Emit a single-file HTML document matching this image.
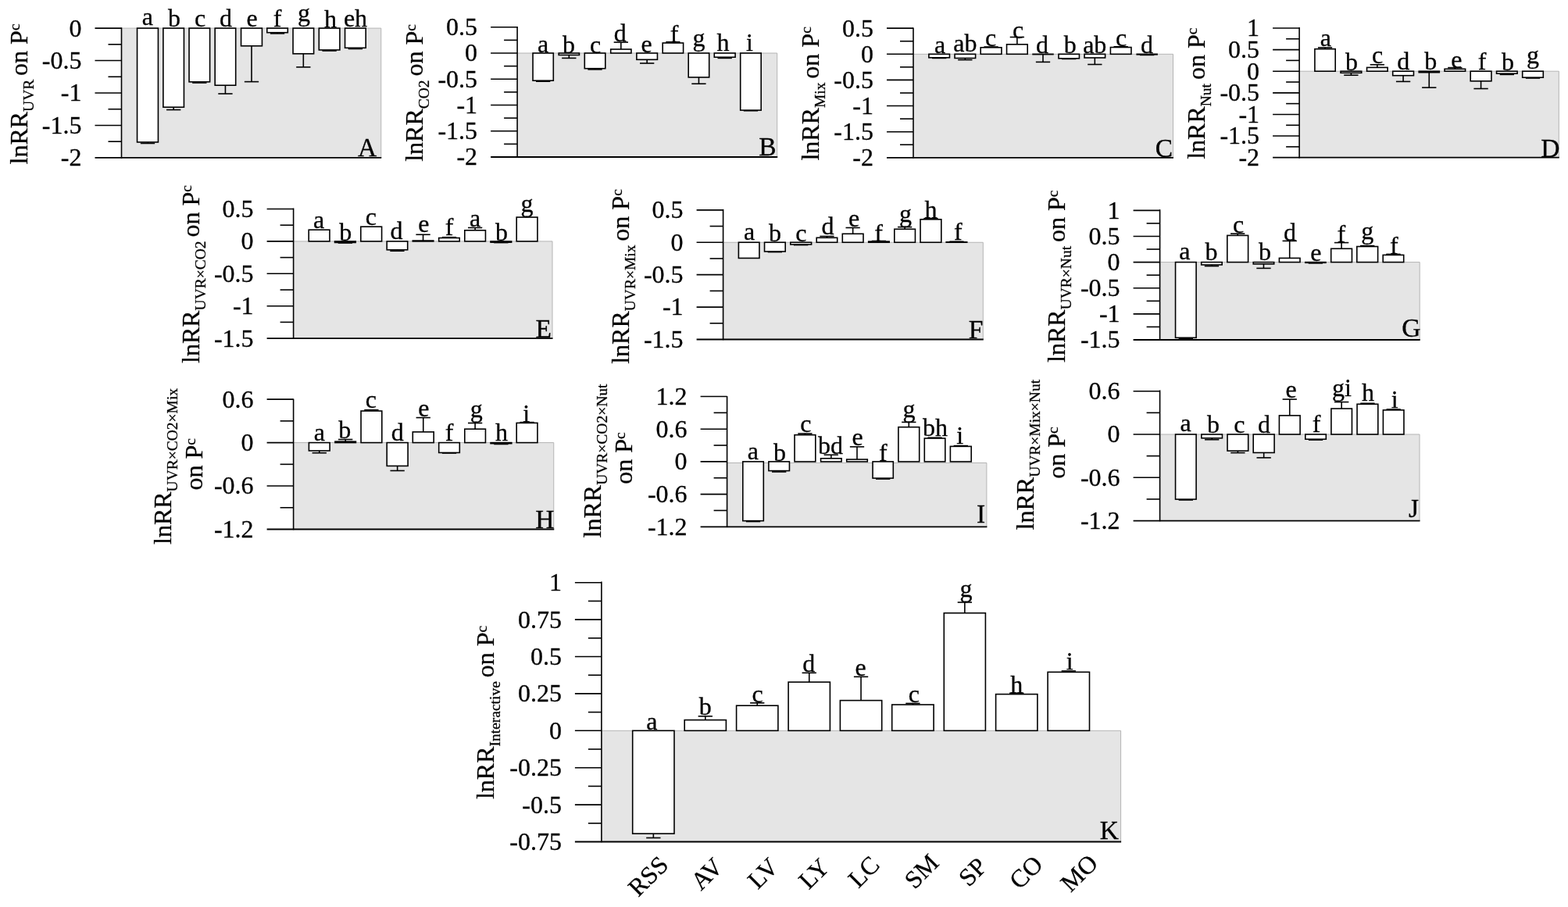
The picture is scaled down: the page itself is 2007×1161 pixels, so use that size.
<!DOCTYPE html>
<html lang="en">
<head>
<meta charset="utf-8">
<title>lnRR on Pc - response ratios</title>
<style>
html,body{margin:0;padding:0;background:#fff;}
body{width:2007px;height:1161px;overflow:hidden;}
svg{display:block;font-family:"Liberation Serif","Times New Roman",Times,serif;fill:#000;}
text{stroke:#000;stroke-width:0.3px;}
</style>
</head>
<body>
<svg width="2007" height="1161" viewBox="0 0 2007 1161">
<rect x="0" y="0" width="2007" height="1161" fill="#fff"/>
<rect x="155.5" y="36.1" width="332.25" height="165.8" fill="#e5e5e5"/>
<line x1="155.5" y1="36.1" x2="487.75" y2="36.1" stroke="#b4b4b4" stroke-width="1"/>
<line x1="487.75" y1="36.1" x2="487.75" y2="201.9" stroke="#b4b4b4" stroke-width="1"/>
<rect x="175.55" y="36.1" width="26.9" height="145.85" fill="#fff" stroke="#000" stroke-width="1.6"/>
<line x1="189" y1="181.95" x2="189" y2="183.5" stroke="#000" stroke-width="1.6"/>
<line x1="179.85" y1="183.5" x2="198.15" y2="183.5" stroke="#000" stroke-width="1.6"/>
<rect x="208.9" y="36.1" width="26.55" height="101.1" fill="#fff" stroke="#000" stroke-width="1.6"/>
<line x1="222.18" y1="137.2" x2="222.18" y2="140.55" stroke="#000" stroke-width="1.6"/>
<line x1="213.03" y1="140.55" x2="231.33" y2="140.55" stroke="#000" stroke-width="1.6"/>
<rect x="242.05" y="36.1" width="26.55" height="68.7" fill="#fff" stroke="#000" stroke-width="1.6"/>
<line x1="255.32" y1="104.8" x2="255.32" y2="106" stroke="#000" stroke-width="1.6"/>
<line x1="246.17" y1="106" x2="264.47" y2="106" stroke="#000" stroke-width="1.6"/>
<rect x="275.2" y="36.1" width="26.5" height="73.1" fill="#fff" stroke="#000" stroke-width="1.6"/>
<line x1="288.45" y1="109.2" x2="288.45" y2="120" stroke="#000" stroke-width="1.6"/>
<line x1="279.3" y1="120" x2="297.6" y2="120" stroke="#000" stroke-width="1.6"/>
<rect x="308.55" y="36.1" width="26.9" height="22.7" fill="#fff" stroke="#000" stroke-width="1.6"/>
<line x1="322" y1="58.8" x2="322" y2="104.6" stroke="#000" stroke-width="1.6"/>
<line x1="312.85" y1="104.6" x2="331.15" y2="104.6" stroke="#000" stroke-width="1.6"/>
<rect x="341.8" y="36.1" width="26.5" height="5.6" fill="#fff" stroke="#000" stroke-width="1.6"/>
<line x1="355.05" y1="41.7" x2="355.05" y2="42.9" stroke="#000" stroke-width="1.6"/>
<line x1="345.9" y1="42.9" x2="364.2" y2="42.9" stroke="#000" stroke-width="1.6"/>
<rect x="375.05" y="36.1" width="26.55" height="32.7" fill="#fff" stroke="#000" stroke-width="1.6"/>
<line x1="388.32" y1="68.8" x2="388.32" y2="85.9" stroke="#000" stroke-width="1.6"/>
<line x1="379.18" y1="85.9" x2="397.47" y2="85.9" stroke="#000" stroke-width="1.6"/>
<rect x="408.3" y="36.1" width="26.6" height="27.85" fill="#fff" stroke="#000" stroke-width="1.6"/>
<line x1="421.6" y1="63.95" x2="421.6" y2="65" stroke="#000" stroke-width="1.6"/>
<line x1="412.45" y1="65" x2="430.75" y2="65" stroke="#000" stroke-width="1.6"/>
<rect x="441.55" y="36.1" width="26.65" height="25.2" fill="#fff" stroke="#000" stroke-width="1.6"/>
<line x1="454.88" y1="61.3" x2="454.88" y2="62.5" stroke="#000" stroke-width="1.6"/>
<line x1="445.73" y1="62.5" x2="464.02" y2="62.5" stroke="#000" stroke-width="1.6"/>
<line x1="155.5" y1="35.3" x2="155.5" y2="202.7" stroke="#000" stroke-width="1.6"/>
<line x1="121.5" y1="201.9" x2="488.25" y2="201.9" stroke="#000" stroke-width="1.8"/>
<line x1="121.5" y1="36.1" x2="155.5" y2="36.1" stroke="#000" stroke-width="1.6"/>
<text x="104.5" y="46.5" text-anchor="end" font-size="32">0</text>
<line x1="138.5" y1="56.83" x2="155.5" y2="56.83" stroke="#000" stroke-width="1.6"/>
<line x1="121.5" y1="77.55" x2="155.5" y2="77.55" stroke="#000" stroke-width="1.6"/>
<text x="104.5" y="87.95" text-anchor="end" font-size="32">-0.5</text>
<line x1="138.5" y1="98.28" x2="155.5" y2="98.28" stroke="#000" stroke-width="1.6"/>
<line x1="121.5" y1="119" x2="155.5" y2="119" stroke="#000" stroke-width="1.6"/>
<text x="104.5" y="129.4" text-anchor="end" font-size="32">-1</text>
<line x1="138.5" y1="139.72" x2="155.5" y2="139.72" stroke="#000" stroke-width="1.6"/>
<line x1="121.5" y1="160.45" x2="155.5" y2="160.45" stroke="#000" stroke-width="1.6"/>
<text x="104.5" y="170.85" text-anchor="end" font-size="32">-1.5</text>
<line x1="138.5" y1="181.18" x2="155.5" y2="181.18" stroke="#000" stroke-width="1.6"/>
<text x="104.5" y="212.3" text-anchor="end" font-size="32">-2</text>
<text x="188.75" y="31.9" text-anchor="middle" font-size="32">a</text>
<text x="223" y="33.5" text-anchor="middle" font-size="32">b</text>
<text x="256" y="33.5" text-anchor="middle" font-size="32">c</text>
<text x="289" y="33.5" text-anchor="middle" font-size="32">d</text>
<text x="322.5" y="33.5" text-anchor="middle" font-size="32">e</text>
<text x="355" y="33.75" text-anchor="middle" font-size="32">f</text>
<text x="389" y="27.4" text-anchor="middle" font-size="32">g</text>
<text x="423" y="35" text-anchor="middle" font-size="32">h</text>
<text x="455" y="33.75" text-anchor="middle" font-size="32">eh</text>
<text x="482.2" y="199.8" text-anchor="end" font-size="33.5">A</text>
<text transform="translate(34.8,210.5) rotate(-90)" font-size="32">lnRR<tspan font-size="19.5" dy="8">UVR </tspan><tspan dy="-8">on P</tspan><tspan font-size="19.5" dy="-9.5">c</tspan></text>
<rect x="662.1" y="68" width="332.6" height="133" fill="#e5e5e5"/>
<line x1="662.1" y1="68" x2="994.7" y2="68" stroke="#b4b4b4" stroke-width="1"/>
<line x1="994.7" y1="68" x2="994.7" y2="201" stroke="#b4b4b4" stroke-width="1"/>
<rect x="682.05" y="68" width="26.25" height="35.2" fill="#fff" stroke="#000" stroke-width="1.6"/>
<line x1="695.17" y1="103.2" x2="695.17" y2="104.2" stroke="#000" stroke-width="1.6"/>
<line x1="686.02" y1="104.2" x2="704.32" y2="104.2" stroke="#000" stroke-width="1.6"/>
<rect x="715.2" y="68" width="26.25" height="2.45" fill="#fff" stroke="#000" stroke-width="1.6"/>
<line x1="728.33" y1="70.45" x2="728.33" y2="74.4" stroke="#000" stroke-width="1.6"/>
<line x1="719.18" y1="74.4" x2="737.48" y2="74.4" stroke="#000" stroke-width="1.6"/>
<rect x="748.3" y="68" width="26.5" height="19.7" fill="#fff" stroke="#000" stroke-width="1.6"/>
<line x1="761.55" y1="87.7" x2="761.55" y2="88.9" stroke="#000" stroke-width="1.6"/>
<line x1="752.4" y1="88.9" x2="770.7" y2="88.9" stroke="#000" stroke-width="1.6"/>
<rect x="781.7" y="63.05" width="26.25" height="4.95" fill="#fff" stroke="#000" stroke-width="1.6"/>
<line x1="794.83" y1="63.05" x2="794.83" y2="54.1" stroke="#000" stroke-width="1.6"/>
<line x1="785.68" y1="54.1" x2="803.98" y2="54.1" stroke="#000" stroke-width="1.6"/>
<rect x="814.9" y="68" width="26.55" height="8.3" fill="#fff" stroke="#000" stroke-width="1.6"/>
<line x1="828.17" y1="76.3" x2="828.17" y2="81" stroke="#000" stroke-width="1.6"/>
<line x1="819.02" y1="81" x2="837.32" y2="81" stroke="#000" stroke-width="1.6"/>
<rect x="848.2" y="55" width="26.4" height="13" fill="#fff" stroke="#000" stroke-width="1.6"/>
<line x1="861.4" y1="55" x2="861.4" y2="53.75" stroke="#000" stroke-width="1.6"/>
<line x1="852.25" y1="53.75" x2="870.55" y2="53.75" stroke="#000" stroke-width="1.6"/>
<rect x="881.2" y="68" width="26.5" height="30.95" fill="#fff" stroke="#000" stroke-width="1.6"/>
<line x1="894.45" y1="98.95" x2="894.45" y2="107.25" stroke="#000" stroke-width="1.6"/>
<line x1="885.3" y1="107.25" x2="903.6" y2="107.25" stroke="#000" stroke-width="1.6"/>
<rect x="914.3" y="68" width="26.8" height="5.2" fill="#fff" stroke="#000" stroke-width="1.6"/>
<line x1="927.7" y1="73.2" x2="927.7" y2="74.4" stroke="#000" stroke-width="1.6"/>
<line x1="918.55" y1="74.4" x2="936.85" y2="74.4" stroke="#000" stroke-width="1.6"/>
<rect x="947.7" y="68" width="26.5" height="73.1" fill="#fff" stroke="#000" stroke-width="1.6"/>
<line x1="960.95" y1="141.1" x2="960.95" y2="141.75" stroke="#000" stroke-width="1.6"/>
<line x1="951.8" y1="141.75" x2="970.1" y2="141.75" stroke="#000" stroke-width="1.6"/>
<line x1="662.1" y1="33.95" x2="662.1" y2="201.8" stroke="#000" stroke-width="1.6"/>
<line x1="628.1" y1="201" x2="995.2" y2="201" stroke="#000" stroke-width="1.8"/>
<line x1="628.1" y1="34.75" x2="662.1" y2="34.75" stroke="#000" stroke-width="1.6"/>
<text x="611.1" y="45.15" text-anchor="end" font-size="32">0.5</text>
<line x1="645.1" y1="51.38" x2="662.1" y2="51.38" stroke="#000" stroke-width="1.6"/>
<line x1="628.1" y1="68" x2="662.1" y2="68" stroke="#000" stroke-width="1.6"/>
<text x="611.1" y="78.4" text-anchor="end" font-size="32">0</text>
<line x1="645.1" y1="84.62" x2="662.1" y2="84.62" stroke="#000" stroke-width="1.6"/>
<line x1="628.1" y1="101.25" x2="662.1" y2="101.25" stroke="#000" stroke-width="1.6"/>
<text x="611.1" y="111.65" text-anchor="end" font-size="32">-0.5</text>
<line x1="645.1" y1="117.88" x2="662.1" y2="117.88" stroke="#000" stroke-width="1.6"/>
<line x1="628.1" y1="134.5" x2="662.1" y2="134.5" stroke="#000" stroke-width="1.6"/>
<text x="611.1" y="144.9" text-anchor="end" font-size="32">-1</text>
<line x1="645.1" y1="151.12" x2="662.1" y2="151.12" stroke="#000" stroke-width="1.6"/>
<line x1="628.1" y1="167.75" x2="662.1" y2="167.75" stroke="#000" stroke-width="1.6"/>
<text x="611.1" y="178.15" text-anchor="end" font-size="32">-1.5</text>
<line x1="645.1" y1="184.38" x2="662.1" y2="184.38" stroke="#000" stroke-width="1.6"/>
<text x="611.1" y="211.4" text-anchor="end" font-size="32">-2</text>
<text x="695" y="67.3" text-anchor="middle" font-size="32">a</text>
<text x="728" y="67.65" text-anchor="middle" font-size="32">b</text>
<text x="762" y="67.65" text-anchor="middle" font-size="32">c</text>
<text x="793.75" y="52.9" text-anchor="middle" font-size="32">d</text>
<text x="827.5" y="67.3" text-anchor="middle" font-size="32">e</text>
<text x="863" y="53.5" text-anchor="middle" font-size="32">f</text>
<text x="894.4" y="59.4" text-anchor="middle" font-size="32">g</text>
<text x="925.6" y="65.4" text-anchor="middle" font-size="32">h</text>
<text x="959.4" y="64.8" text-anchor="middle" font-size="32">i</text>
<text x="993.6" y="199.4" text-anchor="end" font-size="33.5">B</text>
<text transform="translate(541,206.8) rotate(-90)" font-size="32">lnRR<tspan font-size="19.5" dy="8">CO2 </tspan><tspan dy="-8">on P</tspan><tspan font-size="19.5" dy="-9.5">c</tspan></text>
<rect x="1169" y="69.3" width="332.5" height="132.5" fill="#e5e5e5"/>
<line x1="1169" y1="69.3" x2="1501.5" y2="69.3" stroke="#b4b4b4" stroke-width="1"/>
<line x1="1501.5" y1="69.3" x2="1501.5" y2="201.8" stroke="#b4b4b4" stroke-width="1"/>
<rect x="1188.9" y="69.3" width="26.55" height="4.5" fill="#fff" stroke="#000" stroke-width="1.6"/>
<line x1="1202.17" y1="73.8" x2="1202.17" y2="74.4" stroke="#000" stroke-width="1.6"/>
<line x1="1193.02" y1="74.4" x2="1211.33" y2="74.4" stroke="#000" stroke-width="1.6"/>
<rect x="1222.05" y="69.3" width="26.55" height="5.15" fill="#fff" stroke="#000" stroke-width="1.6"/>
<line x1="1235.33" y1="74.45" x2="1235.33" y2="76.6" stroke="#000" stroke-width="1.6"/>
<line x1="1226.17" y1="76.6" x2="1244.48" y2="76.6" stroke="#000" stroke-width="1.6"/>
<rect x="1255.2" y="60.8" width="26.75" height="8.5" fill="#fff" stroke="#000" stroke-width="1.6"/>
<line x1="1268.58" y1="60.8" x2="1268.58" y2="60" stroke="#000" stroke-width="1.6"/>
<line x1="1259.42" y1="60" x2="1277.73" y2="60" stroke="#000" stroke-width="1.6"/>
<rect x="1288.55" y="56.8" width="26.65" height="12.5" fill="#fff" stroke="#000" stroke-width="1.6"/>
<line x1="1301.88" y1="56.8" x2="1301.88" y2="47.5" stroke="#000" stroke-width="1.6"/>
<line x1="1292.72" y1="47.5" x2="1311.03" y2="47.5" stroke="#000" stroke-width="1.6"/>
<rect x="1322.05" y="69.3" width="25.9" height="0.3" fill="#fff" stroke="#000" stroke-width="1.6"/>
<line x1="1335" y1="69.6" x2="1335" y2="79.4" stroke="#000" stroke-width="1.6"/>
<line x1="1325.85" y1="79.4" x2="1344.15" y2="79.4" stroke="#000" stroke-width="1.6"/>
<rect x="1355" y="69.3" width="26.45" height="5.5" fill="#fff" stroke="#000" stroke-width="1.6"/>
<line x1="1368.22" y1="74.8" x2="1368.22" y2="75.4" stroke="#000" stroke-width="1.6"/>
<line x1="1359.07" y1="75.4" x2="1377.38" y2="75.4" stroke="#000" stroke-width="1.6"/>
<rect x="1388.05" y="69.3" width="26.55" height="4.65" fill="#fff" stroke="#000" stroke-width="1.6"/>
<line x1="1401.33" y1="73.95" x2="1401.33" y2="82.5" stroke="#000" stroke-width="1.6"/>
<line x1="1392.17" y1="82.5" x2="1410.48" y2="82.5" stroke="#000" stroke-width="1.6"/>
<rect x="1421.4" y="60.55" width="26.55" height="8.75" fill="#fff" stroke="#000" stroke-width="1.6"/>
<line x1="1434.67" y1="60.55" x2="1434.67" y2="59.75" stroke="#000" stroke-width="1.6"/>
<line x1="1425.52" y1="59.75" x2="1443.83" y2="59.75" stroke="#000" stroke-width="1.6"/>
<rect x="1455.2" y="69.3" width="25.9" height="0.5" fill="#fff" stroke="#000" stroke-width="1.6"/>
<line x1="1468.15" y1="69.8" x2="1468.15" y2="70.4" stroke="#000" stroke-width="1.6"/>
<line x1="1459" y1="70.4" x2="1477.3" y2="70.4" stroke="#000" stroke-width="1.6"/>
<line x1="1169" y1="35.4" x2="1169" y2="202.6" stroke="#000" stroke-width="1.6"/>
<line x1="1135" y1="201.8" x2="1502" y2="201.8" stroke="#000" stroke-width="1.8"/>
<line x1="1135" y1="36.17" x2="1169" y2="36.17" stroke="#000" stroke-width="1.6"/>
<text x="1118" y="46.57" text-anchor="end" font-size="32">0.5</text>
<line x1="1152" y1="52.74" x2="1169" y2="52.74" stroke="#000" stroke-width="1.6"/>
<line x1="1135" y1="69.3" x2="1169" y2="69.3" stroke="#000" stroke-width="1.6"/>
<text x="1118" y="79.7" text-anchor="end" font-size="32">0</text>
<line x1="1152" y1="85.86" x2="1169" y2="85.86" stroke="#000" stroke-width="1.6"/>
<line x1="1135" y1="102.42" x2="1169" y2="102.42" stroke="#000" stroke-width="1.6"/>
<text x="1118" y="112.83" text-anchor="end" font-size="32">-0.5</text>
<line x1="1152" y1="118.99" x2="1169" y2="118.99" stroke="#000" stroke-width="1.6"/>
<line x1="1135" y1="135.55" x2="1169" y2="135.55" stroke="#000" stroke-width="1.6"/>
<text x="1118" y="145.95" text-anchor="end" font-size="32">-1</text>
<line x1="1152" y1="152.11" x2="1169" y2="152.11" stroke="#000" stroke-width="1.6"/>
<line x1="1135" y1="168.68" x2="1169" y2="168.68" stroke="#000" stroke-width="1.6"/>
<text x="1118" y="179.08" text-anchor="end" font-size="32">-1.5</text>
<line x1="1152" y1="185.24" x2="1169" y2="185.24" stroke="#000" stroke-width="1.6"/>
<text x="1118" y="212.2" text-anchor="end" font-size="32">-2</text>
<text x="1203" y="67.55" text-anchor="middle" font-size="32">a</text>
<text x="1235.4" y="66.3" text-anchor="middle" font-size="32">ab</text>
<text x="1268" y="58.8" text-anchor="middle" font-size="32">c</text>
<text x="1303" y="48.55" text-anchor="middle" font-size="32">c</text>
<text x="1334" y="67.55" text-anchor="middle" font-size="32">d</text>
<text x="1369.75" y="67.55" text-anchor="middle" font-size="32">b</text>
<text x="1401.25" y="67.55" text-anchor="middle" font-size="32">ab</text>
<text x="1435" y="58.55" text-anchor="middle" font-size="32">c</text>
<text x="1468" y="67.55" text-anchor="middle" font-size="32">d</text>
<text x="1501.2" y="200.8" text-anchor="end" font-size="33.5">C</text>
<text transform="translate(1047.6,205.6) rotate(-90)" font-size="32">lnRR<tspan font-size="19.5" dy="8">Mix </tspan><tspan dy="-8">on P</tspan><tspan font-size="19.5" dy="-9.5">c</tspan></text>
<rect x="1663.1" y="91.2" width="332.2" height="110.5" fill="#e5e5e5"/>
<line x1="1663.1" y1="91.2" x2="1995.3" y2="91.2" stroke="#b4b4b4" stroke-width="1"/>
<line x1="1995.3" y1="91.2" x2="1995.3" y2="201.7" stroke="#b4b4b4" stroke-width="1"/>
<rect x="1682.9" y="62.7" width="26.3" height="28.5" fill="#fff" stroke="#000" stroke-width="1.6"/>
<line x1="1696.05" y1="62.7" x2="1696.05" y2="60.9" stroke="#000" stroke-width="1.6"/>
<line x1="1686.9" y1="60.9" x2="1705.2" y2="60.9" stroke="#000" stroke-width="1.6"/>
<rect x="1716.05" y="91.2" width="26.65" height="2.1" fill="#fff" stroke="#000" stroke-width="1.6"/>
<line x1="1729.38" y1="93.3" x2="1729.38" y2="96.25" stroke="#000" stroke-width="1.6"/>
<line x1="1720.22" y1="96.25" x2="1738.53" y2="96.25" stroke="#000" stroke-width="1.6"/>
<rect x="1749.55" y="86.4" width="26.55" height="4.8" fill="#fff" stroke="#000" stroke-width="1.6"/>
<line x1="1762.83" y1="86.4" x2="1762.83" y2="82.75" stroke="#000" stroke-width="1.6"/>
<line x1="1753.67" y1="82.75" x2="1771.98" y2="82.75" stroke="#000" stroke-width="1.6"/>
<rect x="1782.7" y="91.2" width="26.75" height="5.5" fill="#fff" stroke="#000" stroke-width="1.6"/>
<line x1="1796.08" y1="96.7" x2="1796.08" y2="104.4" stroke="#000" stroke-width="1.6"/>
<line x1="1786.92" y1="104.4" x2="1805.23" y2="104.4" stroke="#000" stroke-width="1.6"/>
<rect x="1816.2" y="91.2" width="26.1" height="1.5" fill="#fff" stroke="#000" stroke-width="1.6"/>
<line x1="1829.25" y1="92.7" x2="1829.25" y2="112.1" stroke="#000" stroke-width="1.6"/>
<line x1="1820.1" y1="112.1" x2="1838.4" y2="112.1" stroke="#000" stroke-width="1.6"/>
<rect x="1849.05" y="88.3" width="26.55" height="2.9" fill="#fff" stroke="#000" stroke-width="1.6"/>
<line x1="1862.33" y1="88.3" x2="1862.33" y2="86.6" stroke="#000" stroke-width="1.6"/>
<line x1="1853.17" y1="86.6" x2="1871.48" y2="86.6" stroke="#000" stroke-width="1.6"/>
<rect x="1882.2" y="91.2" width="26.75" height="12.6" fill="#fff" stroke="#000" stroke-width="1.6"/>
<line x1="1895.58" y1="103.8" x2="1895.58" y2="113.5" stroke="#000" stroke-width="1.6"/>
<line x1="1886.42" y1="113.5" x2="1904.73" y2="113.5" stroke="#000" stroke-width="1.6"/>
<rect x="1915.55" y="91.2" width="26.55" height="3" fill="#fff" stroke="#000" stroke-width="1.6"/>
<line x1="1928.83" y1="94.2" x2="1928.83" y2="95.4" stroke="#000" stroke-width="1.6"/>
<line x1="1919.67" y1="95.4" x2="1937.98" y2="95.4" stroke="#000" stroke-width="1.6"/>
<rect x="1948.7" y="91.2" width="26.6" height="8" fill="#fff" stroke="#000" stroke-width="1.6"/>
<line x1="1962" y1="99.2" x2="1962" y2="100" stroke="#000" stroke-width="1.6"/>
<line x1="1952.85" y1="100" x2="1971.15" y2="100" stroke="#000" stroke-width="1.6"/>
<line x1="1663.1" y1="35.1" x2="1663.1" y2="202.5" stroke="#000" stroke-width="1.6"/>
<line x1="1629.1" y1="201.7" x2="1995.8" y2="201.7" stroke="#000" stroke-width="1.8"/>
<line x1="1629.1" y1="35.95" x2="1663.1" y2="35.95" stroke="#000" stroke-width="1.6"/>
<text x="1612.1" y="46.35" text-anchor="end" font-size="32">1</text>
<line x1="1646.1" y1="49.76" x2="1663.1" y2="49.76" stroke="#000" stroke-width="1.6"/>
<line x1="1629.1" y1="63.58" x2="1663.1" y2="63.58" stroke="#000" stroke-width="1.6"/>
<text x="1612.1" y="73.98" text-anchor="end" font-size="32">0.5</text>
<line x1="1646.1" y1="77.39" x2="1663.1" y2="77.39" stroke="#000" stroke-width="1.6"/>
<line x1="1629.1" y1="91.2" x2="1663.1" y2="91.2" stroke="#000" stroke-width="1.6"/>
<text x="1612.1" y="101.6" text-anchor="end" font-size="32">0</text>
<line x1="1646.1" y1="105.01" x2="1663.1" y2="105.01" stroke="#000" stroke-width="1.6"/>
<line x1="1629.1" y1="118.83" x2="1663.1" y2="118.83" stroke="#000" stroke-width="1.6"/>
<text x="1612.1" y="129.22" text-anchor="end" font-size="32">-0.5</text>
<line x1="1646.1" y1="132.64" x2="1663.1" y2="132.64" stroke="#000" stroke-width="1.6"/>
<line x1="1629.1" y1="146.45" x2="1663.1" y2="146.45" stroke="#000" stroke-width="1.6"/>
<text x="1612.1" y="156.85" text-anchor="end" font-size="32">-1</text>
<line x1="1646.1" y1="160.26" x2="1663.1" y2="160.26" stroke="#000" stroke-width="1.6"/>
<line x1="1629.1" y1="174.07" x2="1663.1" y2="174.07" stroke="#000" stroke-width="1.6"/>
<text x="1612.1" y="184.47" text-anchor="end" font-size="32">-1.5</text>
<line x1="1646.1" y1="187.89" x2="1663.1" y2="187.89" stroke="#000" stroke-width="1.6"/>
<text x="1612.1" y="212.1" text-anchor="end" font-size="32">-2</text>
<text x="1696.9" y="59" text-anchor="middle" font-size="32">a</text>
<text x="1730" y="89.9" text-anchor="middle" font-size="32">b</text>
<text x="1763.1" y="80.9" text-anchor="middle" font-size="32">c</text>
<text x="1796.25" y="89" text-anchor="middle" font-size="32">d</text>
<text x="1831.25" y="89" text-anchor="middle" font-size="32">b</text>
<text x="1864.25" y="87.15" text-anchor="middle" font-size="32">e</text>
<text x="1897" y="89.4" text-anchor="middle" font-size="32">f</text>
<text x="1930" y="89.9" text-anchor="middle" font-size="32">b</text>
<text x="1962" y="81.1" text-anchor="middle" font-size="32">g</text>
<text x="1996.4" y="200.5" text-anchor="end" font-size="33.5">D</text>
<text transform="translate(1541.8,203.8) rotate(-90)" font-size="32">lnRR<tspan font-size="19.5" dy="8">Nut </tspan><tspan dy="-8">on P</tspan><tspan font-size="19.5" dy="-9.5">c</tspan></text>
<rect x="375.6" y="308.9" width="331.4" height="124.2" fill="#e5e5e5"/>
<line x1="375.6" y1="308.9" x2="707" y2="308.9" stroke="#b4b4b4" stroke-width="1"/>
<line x1="707" y1="308.9" x2="707" y2="433.1" stroke="#b4b4b4" stroke-width="1"/>
<rect x="395.2" y="294.2" width="26.75" height="14.7" fill="#fff" stroke="#000" stroke-width="1.6"/>
<rect x="428.55" y="308.9" width="26.65" height="1.55" fill="#fff" stroke="#000" stroke-width="1.6"/>
<line x1="441.88" y1="310.45" x2="441.88" y2="311" stroke="#000" stroke-width="1.6"/>
<line x1="432.73" y1="311" x2="451.02" y2="311" stroke="#000" stroke-width="1.6"/>
<rect x="461.8" y="290.2" width="26.8" height="18.7" fill="#fff" stroke="#000" stroke-width="1.6"/>
<rect x="495.2" y="308.9" width="26.5" height="10.9" fill="#fff" stroke="#000" stroke-width="1.6"/>
<line x1="508.45" y1="319.8" x2="508.45" y2="321.25" stroke="#000" stroke-width="1.6"/>
<line x1="499.3" y1="321.25" x2="517.6" y2="321.25" stroke="#000" stroke-width="1.6"/>
<rect x="528.3" y="308.05" width="26.5" height="0.85" fill="#fff" stroke="#000" stroke-width="1.6"/>
<line x1="541.55" y1="308.05" x2="541.55" y2="300.3" stroke="#000" stroke-width="1.6"/>
<line x1="532.4" y1="300.3" x2="550.7" y2="300.3" stroke="#000" stroke-width="1.6"/>
<rect x="561.7" y="304.55" width="26.5" height="4.35" fill="#fff" stroke="#000" stroke-width="1.6"/>
<line x1="574.95" y1="304.55" x2="574.95" y2="303.75" stroke="#000" stroke-width="1.6"/>
<line x1="565.8" y1="303.75" x2="584.1" y2="303.75" stroke="#000" stroke-width="1.6"/>
<rect x="594.8" y="294.8" width="26.65" height="14.1" fill="#fff" stroke="#000" stroke-width="1.6"/>
<line x1="608.12" y1="294.8" x2="608.12" y2="291.5" stroke="#000" stroke-width="1.6"/>
<line x1="598.98" y1="291.5" x2="617.27" y2="291.5" stroke="#000" stroke-width="1.6"/>
<rect x="628.05" y="308.9" width="26.55" height="1.3" fill="#fff" stroke="#000" stroke-width="1.6"/>
<line x1="641.33" y1="310.2" x2="641.33" y2="310.6" stroke="#000" stroke-width="1.6"/>
<line x1="632.18" y1="310.6" x2="650.48" y2="310.6" stroke="#000" stroke-width="1.6"/>
<rect x="661.2" y="278.05" width="26.75" height="30.85" fill="#fff" stroke="#000" stroke-width="1.6"/>
<line x1="375.6" y1="266.5" x2="375.6" y2="433.9" stroke="#000" stroke-width="1.6"/>
<line x1="341.6" y1="433.1" x2="707.5" y2="433.1" stroke="#000" stroke-width="1.8"/>
<line x1="341.6" y1="267.5" x2="375.6" y2="267.5" stroke="#000" stroke-width="1.6"/>
<text x="324.6" y="277.9" text-anchor="end" font-size="32">0.5</text>
<line x1="358.6" y1="288.2" x2="375.6" y2="288.2" stroke="#000" stroke-width="1.6"/>
<line x1="341.6" y1="308.9" x2="375.6" y2="308.9" stroke="#000" stroke-width="1.6"/>
<text x="324.6" y="319.3" text-anchor="end" font-size="32">0</text>
<line x1="358.6" y1="329.6" x2="375.6" y2="329.6" stroke="#000" stroke-width="1.6"/>
<line x1="341.6" y1="350.3" x2="375.6" y2="350.3" stroke="#000" stroke-width="1.6"/>
<text x="324.6" y="360.7" text-anchor="end" font-size="32">-0.5</text>
<line x1="358.6" y1="371" x2="375.6" y2="371" stroke="#000" stroke-width="1.6"/>
<line x1="341.6" y1="391.7" x2="375.6" y2="391.7" stroke="#000" stroke-width="1.6"/>
<text x="324.6" y="402.1" text-anchor="end" font-size="32">-1</text>
<line x1="358.6" y1="412.4" x2="375.6" y2="412.4" stroke="#000" stroke-width="1.6"/>
<text x="324.6" y="443.5" text-anchor="end" font-size="32">-1.5</text>
<text x="408.1" y="291.9" text-anchor="middle" font-size="32">a</text>
<text x="442.25" y="307.8" text-anchor="middle" font-size="32">b</text>
<text x="474.75" y="288.4" text-anchor="middle" font-size="32">c</text>
<text x="507.5" y="306.15" text-anchor="middle" font-size="32">d</text>
<text x="542.4" y="297.15" text-anchor="middle" font-size="32">e</text>
<text x="575" y="300.8" text-anchor="middle" font-size="32">f</text>
<text x="608.1" y="290.3" text-anchor="middle" font-size="32">a</text>
<text x="641.9" y="307.8" text-anchor="middle" font-size="32">b</text>
<text x="674.4" y="271.1" text-anchor="middle" font-size="32">g</text>
<text x="706" y="432" text-anchor="end" font-size="33.5">E</text>
<text transform="translate(254.8,465) rotate(-90)" font-size="32">lnRR<tspan font-size="19.5" dy="8">UVR×CO2 </tspan><tspan dy="-8">on P</tspan><tspan font-size="19.5" dy="-9.5">c</tspan></text>
<rect x="925.6" y="310.25" width="332.7" height="124.25" fill="#e5e5e5"/>
<line x1="925.6" y1="310.25" x2="1258.3" y2="310.25" stroke="#b4b4b4" stroke-width="1"/>
<line x1="1258.3" y1="310.25" x2="1258.3" y2="434.5" stroke="#b4b4b4" stroke-width="1"/>
<rect x="945.4" y="310.25" width="26.55" height="20.2" fill="#fff" stroke="#000" stroke-width="1.6"/>
<rect x="978.55" y="310.25" width="26.65" height="11.7" fill="#fff" stroke="#000" stroke-width="1.6"/>
<line x1="991.88" y1="321.95" x2="991.88" y2="322.6" stroke="#000" stroke-width="1.6"/>
<line x1="982.73" y1="322.6" x2="1001.02" y2="322.6" stroke="#000" stroke-width="1.6"/>
<rect x="1011.8" y="310.25" width="26.8" height="2.7" fill="#fff" stroke="#000" stroke-width="1.6"/>
<line x1="1025.2" y1="312.95" x2="1025.2" y2="313.6" stroke="#000" stroke-width="1.6"/>
<line x1="1016.05" y1="313.6" x2="1034.35" y2="313.6" stroke="#000" stroke-width="1.6"/>
<rect x="1045.2" y="304.3" width="26.5" height="5.95" fill="#fff" stroke="#000" stroke-width="1.6"/>
<line x1="1058.45" y1="304.3" x2="1058.45" y2="302.5" stroke="#000" stroke-width="1.6"/>
<line x1="1049.3" y1="302.5" x2="1067.6" y2="302.5" stroke="#000" stroke-width="1.6"/>
<rect x="1078.3" y="299.3" width="26.7" height="10.95" fill="#fff" stroke="#000" stroke-width="1.6"/>
<line x1="1091.65" y1="299.3" x2="1091.65" y2="291.5" stroke="#000" stroke-width="1.6"/>
<line x1="1082.5" y1="291.5" x2="1100.8" y2="291.5" stroke="#000" stroke-width="1.6"/>
<rect x="1111.7" y="309.1" width="26.5" height="1.15" fill="#fff" stroke="#000" stroke-width="1.6"/>
<line x1="1124.95" y1="309.1" x2="1124.95" y2="308.5" stroke="#000" stroke-width="1.6"/>
<line x1="1115.8" y1="308.5" x2="1134.1" y2="308.5" stroke="#000" stroke-width="1.6"/>
<rect x="1144.8" y="293.3" width="26.65" height="16.95" fill="#fff" stroke="#000" stroke-width="1.6"/>
<line x1="1158.12" y1="293.3" x2="1158.12" y2="290.6" stroke="#000" stroke-width="1.6"/>
<line x1="1148.97" y1="290.6" x2="1167.28" y2="290.6" stroke="#000" stroke-width="1.6"/>
<rect x="1178.05" y="280.8" width="26.75" height="29.45" fill="#fff" stroke="#000" stroke-width="1.6"/>
<line x1="1191.42" y1="280.8" x2="1191.42" y2="279.6" stroke="#000" stroke-width="1.6"/>
<line x1="1182.27" y1="279.6" x2="1200.58" y2="279.6" stroke="#000" stroke-width="1.6"/>
<rect x="1211.2" y="309.8" width="26.5" height="0.45" fill="#fff" stroke="#000" stroke-width="1.6"/>
<line x1="1224.45" y1="309.8" x2="1224.45" y2="309.2" stroke="#000" stroke-width="1.6"/>
<line x1="1215.3" y1="309.2" x2="1233.6" y2="309.2" stroke="#000" stroke-width="1.6"/>
<line x1="925.6" y1="267.8" x2="925.6" y2="435.3" stroke="#000" stroke-width="1.6"/>
<line x1="891.6" y1="434.5" x2="1258.8" y2="434.5" stroke="#000" stroke-width="1.8"/>
<line x1="891.6" y1="268.83" x2="925.6" y2="268.83" stroke="#000" stroke-width="1.6"/>
<text x="874.6" y="279.23" text-anchor="end" font-size="32">0.5</text>
<line x1="908.6" y1="289.54" x2="925.6" y2="289.54" stroke="#000" stroke-width="1.6"/>
<line x1="891.6" y1="310.25" x2="925.6" y2="310.25" stroke="#000" stroke-width="1.6"/>
<text x="874.6" y="320.65" text-anchor="end" font-size="32">0</text>
<line x1="908.6" y1="330.96" x2="925.6" y2="330.96" stroke="#000" stroke-width="1.6"/>
<line x1="891.6" y1="351.67" x2="925.6" y2="351.67" stroke="#000" stroke-width="1.6"/>
<text x="874.6" y="362.07" text-anchor="end" font-size="32">-0.5</text>
<line x1="908.6" y1="372.38" x2="925.6" y2="372.38" stroke="#000" stroke-width="1.6"/>
<line x1="891.6" y1="393.08" x2="925.6" y2="393.08" stroke="#000" stroke-width="1.6"/>
<text x="874.6" y="403.48" text-anchor="end" font-size="32">-1</text>
<line x1="908.6" y1="413.79" x2="925.6" y2="413.79" stroke="#000" stroke-width="1.6"/>
<text x="874.6" y="444.9" text-anchor="end" font-size="32">-1.5</text>
<text x="959" y="307.45" text-anchor="middle" font-size="32">a</text>
<text x="991.9" y="309.3" text-anchor="middle" font-size="32">b</text>
<text x="1025.25" y="309.3" text-anchor="middle" font-size="32">c</text>
<text x="1059.4" y="300.2" text-anchor="middle" font-size="32">d</text>
<text x="1093.1" y="290.2" text-anchor="middle" font-size="32">e</text>
<text x="1124.5" y="308.6" text-anchor="middle" font-size="32">f</text>
<text x="1159" y="283.5" text-anchor="middle" font-size="32">g</text>
<text x="1191.6" y="279.3" text-anchor="middle" font-size="32">h</text>
<text x="1226.25" y="307.2" text-anchor="middle" font-size="32">f</text>
<text x="1258.4" y="433" text-anchor="end" font-size="33.5">F</text>
<text transform="translate(805.4,465.8) rotate(-90)" font-size="32">lnRR<tspan font-size="19.5" dy="8">UVR×Mix </tspan><tspan dy="-8">on P</tspan><tspan font-size="19.5" dy="-9.5">c</tspan></text>
<rect x="1484.6" y="335.6" width="332.6" height="99.4" fill="#e5e5e5"/>
<line x1="1484.6" y1="335.6" x2="1817.2" y2="335.6" stroke="#b4b4b4" stroke-width="1"/>
<line x1="1817.2" y1="335.6" x2="1817.2" y2="435" stroke="#b4b4b4" stroke-width="1"/>
<rect x="1504.55" y="335.6" width="26.55" height="96.7" fill="#fff" stroke="#000" stroke-width="1.6"/>
<line x1="1517.83" y1="432.3" x2="1517.83" y2="433.7" stroke="#000" stroke-width="1.6"/>
<line x1="1508.67" y1="433.7" x2="1526.98" y2="433.7" stroke="#000" stroke-width="1.6"/>
<rect x="1537.7" y="335.6" width="26.5" height="3.35" fill="#fff" stroke="#000" stroke-width="1.6"/>
<line x1="1550.95" y1="338.95" x2="1550.95" y2="340.6" stroke="#000" stroke-width="1.6"/>
<line x1="1541.8" y1="340.6" x2="1560.1" y2="340.6" stroke="#000" stroke-width="1.6"/>
<rect x="1570.8" y="301.4" width="26.8" height="34.2" fill="#fff" stroke="#000" stroke-width="1.6"/>
<line x1="1584.2" y1="301.4" x2="1584.2" y2="299.1" stroke="#000" stroke-width="1.6"/>
<line x1="1575.05" y1="299.1" x2="1593.35" y2="299.1" stroke="#000" stroke-width="1.6"/>
<rect x="1604.2" y="335.6" width="26.5" height="2.35" fill="#fff" stroke="#000" stroke-width="1.6"/>
<line x1="1617.45" y1="337.95" x2="1617.45" y2="343.4" stroke="#000" stroke-width="1.6"/>
<line x1="1608.3" y1="343.4" x2="1626.6" y2="343.4" stroke="#000" stroke-width="1.6"/>
<rect x="1637.4" y="330.4" width="26.6" height="5.2" fill="#fff" stroke="#000" stroke-width="1.6"/>
<line x1="1650.7" y1="330.4" x2="1650.7" y2="308.4" stroke="#000" stroke-width="1.6"/>
<line x1="1641.55" y1="308.4" x2="1659.85" y2="308.4" stroke="#000" stroke-width="1.6"/>
<rect x="1670.8" y="335.6" width="26.15" height="0.7" fill="#fff" stroke="#000" stroke-width="1.6"/>
<line x1="1683.88" y1="336.3" x2="1683.88" y2="336.9" stroke="#000" stroke-width="1.6"/>
<line x1="1674.72" y1="336.9" x2="1693.03" y2="336.9" stroke="#000" stroke-width="1.6"/>
<rect x="1703.7" y="318.3" width="26.75" height="17.3" fill="#fff" stroke="#000" stroke-width="1.6"/>
<line x1="1717.08" y1="318.3" x2="1717.08" y2="310.6" stroke="#000" stroke-width="1.6"/>
<line x1="1707.92" y1="310.6" x2="1726.23" y2="310.6" stroke="#000" stroke-width="1.6"/>
<rect x="1736.8" y="315.55" width="26.8" height="20.05" fill="#fff" stroke="#000" stroke-width="1.6"/>
<line x1="1750.2" y1="315.55" x2="1750.2" y2="314.6" stroke="#000" stroke-width="1.6"/>
<line x1="1741.05" y1="314.6" x2="1759.35" y2="314.6" stroke="#000" stroke-width="1.6"/>
<rect x="1770.2" y="326.4" width="26.5" height="9.2" fill="#fff" stroke="#000" stroke-width="1.6"/>
<line x1="1783.45" y1="326.4" x2="1783.45" y2="325.4" stroke="#000" stroke-width="1.6"/>
<line x1="1774.3" y1="325.4" x2="1792.6" y2="325.4" stroke="#000" stroke-width="1.6"/>
<line x1="1484.6" y1="268.2" x2="1484.6" y2="435.8" stroke="#000" stroke-width="1.6"/>
<line x1="1450.6" y1="435" x2="1817.7" y2="435" stroke="#000" stroke-width="1.8"/>
<line x1="1450.6" y1="269.33" x2="1484.6" y2="269.33" stroke="#000" stroke-width="1.6"/>
<text x="1433.6" y="279.73" text-anchor="end" font-size="32">1</text>
<line x1="1467.6" y1="285.9" x2="1484.6" y2="285.9" stroke="#000" stroke-width="1.6"/>
<line x1="1450.6" y1="302.47" x2="1484.6" y2="302.47" stroke="#000" stroke-width="1.6"/>
<text x="1433.6" y="312.87" text-anchor="end" font-size="32">0.5</text>
<line x1="1467.6" y1="319.03" x2="1484.6" y2="319.03" stroke="#000" stroke-width="1.6"/>
<line x1="1450.6" y1="335.6" x2="1484.6" y2="335.6" stroke="#000" stroke-width="1.6"/>
<text x="1433.6" y="346" text-anchor="end" font-size="32">0</text>
<line x1="1467.6" y1="352.17" x2="1484.6" y2="352.17" stroke="#000" stroke-width="1.6"/>
<line x1="1450.6" y1="368.73" x2="1484.6" y2="368.73" stroke="#000" stroke-width="1.6"/>
<text x="1433.6" y="379.13" text-anchor="end" font-size="32">-0.5</text>
<line x1="1467.6" y1="385.3" x2="1484.6" y2="385.3" stroke="#000" stroke-width="1.6"/>
<line x1="1450.6" y1="401.87" x2="1484.6" y2="401.87" stroke="#000" stroke-width="1.6"/>
<text x="1433.6" y="412.27" text-anchor="end" font-size="32">-1</text>
<line x1="1467.6" y1="418.43" x2="1484.6" y2="418.43" stroke="#000" stroke-width="1.6"/>
<text x="1433.6" y="445.4" text-anchor="end" font-size="32">-1.5</text>
<text x="1516.25" y="332.15" text-anchor="middle" font-size="32">a</text>
<text x="1550.6" y="333.4" text-anchor="middle" font-size="32">b</text>
<text x="1585" y="298.15" text-anchor="middle" font-size="32">c</text>
<text x="1619" y="333.4" text-anchor="middle" font-size="32">b</text>
<text x="1651" y="307.8" text-anchor="middle" font-size="32">d</text>
<text x="1684.4" y="333.8" text-anchor="middle" font-size="32">e</text>
<text x="1716.9" y="309.65" text-anchor="middle" font-size="32">f</text>
<text x="1750.25" y="306.1" text-anchor="middle" font-size="32">g</text>
<text x="1784.4" y="325.3" text-anchor="middle" font-size="32">f</text>
<text x="1818.5" y="431" text-anchor="end" font-size="33.5">G</text>
<text transform="translate(1363,463.9) rotate(-90)" font-size="32">lnRR<tspan font-size="19.5" dy="8">UVR×Nut </tspan><tspan dy="-8">on P</tspan><tspan font-size="19.5" dy="-9.5">c</tspan></text>
<rect x="375.6" y="566.6" width="333.15" height="110.9" fill="#e5e5e5"/>
<line x1="375.6" y1="566.6" x2="708.75" y2="566.6" stroke="#b4b4b4" stroke-width="1"/>
<line x1="708.75" y1="566.6" x2="708.75" y2="677.5" stroke="#b4b4b4" stroke-width="1"/>
<rect x="395.4" y="566.6" width="26.7" height="10.35" fill="#fff" stroke="#000" stroke-width="1.6"/>
<line x1="408.75" y1="576.95" x2="408.75" y2="579.75" stroke="#000" stroke-width="1.6"/>
<line x1="399.6" y1="579.75" x2="417.9" y2="579.75" stroke="#000" stroke-width="1.6"/>
<rect x="428.9" y="565.2" width="26.55" height="1.4" fill="#fff" stroke="#000" stroke-width="1.6"/>
<line x1="442.18" y1="565.2" x2="442.18" y2="562.5" stroke="#000" stroke-width="1.6"/>
<line x1="433.03" y1="562.5" x2="451.32" y2="562.5" stroke="#000" stroke-width="1.6"/>
<rect x="462.05" y="526.05" width="26.75" height="40.55" fill="#fff" stroke="#000" stroke-width="1.6"/>
<line x1="475.43" y1="526.05" x2="475.43" y2="524.75" stroke="#000" stroke-width="1.6"/>
<line x1="466.28" y1="524.75" x2="484.57" y2="524.75" stroke="#000" stroke-width="1.6"/>
<rect x="495.2" y="566.6" width="26.9" height="29.85" fill="#fff" stroke="#000" stroke-width="1.6"/>
<line x1="508.65" y1="596.45" x2="508.65" y2="602.5" stroke="#000" stroke-width="1.6"/>
<line x1="499.5" y1="602.5" x2="517.8" y2="602.5" stroke="#000" stroke-width="1.6"/>
<rect x="528.3" y="552.9" width="26.9" height="13.7" fill="#fff" stroke="#000" stroke-width="1.6"/>
<line x1="541.75" y1="552.9" x2="541.75" y2="534.6" stroke="#000" stroke-width="1.6"/>
<line x1="532.6" y1="534.6" x2="550.9" y2="534.6" stroke="#000" stroke-width="1.6"/>
<rect x="561.7" y="566.6" width="26.6" height="12.85" fill="#fff" stroke="#000" stroke-width="1.6"/>
<line x1="575" y1="579.45" x2="575" y2="580" stroke="#000" stroke-width="1.6"/>
<line x1="565.85" y1="580" x2="584.15" y2="580" stroke="#000" stroke-width="1.6"/>
<rect x="594.8" y="549.2" width="26.65" height="17.4" fill="#fff" stroke="#000" stroke-width="1.6"/>
<line x1="608.12" y1="549.2" x2="608.12" y2="541.5" stroke="#000" stroke-width="1.6"/>
<line x1="598.98" y1="541.5" x2="617.27" y2="541.5" stroke="#000" stroke-width="1.6"/>
<rect x="628.05" y="566.6" width="26.75" height="1.1" fill="#fff" stroke="#000" stroke-width="1.6"/>
<line x1="641.42" y1="567.7" x2="641.42" y2="568.5" stroke="#000" stroke-width="1.6"/>
<line x1="632.27" y1="568.5" x2="650.57" y2="568.5" stroke="#000" stroke-width="1.6"/>
<rect x="661.2" y="541.4" width="26.75" height="25.2" fill="#fff" stroke="#000" stroke-width="1.6"/>
<line x1="674.58" y1="541.4" x2="674.58" y2="540.6" stroke="#000" stroke-width="1.6"/>
<line x1="665.43" y1="540.6" x2="683.73" y2="540.6" stroke="#000" stroke-width="1.6"/>
<line x1="375.6" y1="510.6" x2="375.6" y2="678.3" stroke="#000" stroke-width="1.6"/>
<line x1="341.6" y1="677.5" x2="709.25" y2="677.5" stroke="#000" stroke-width="1.8"/>
<line x1="341.6" y1="511.15" x2="375.6" y2="511.15" stroke="#000" stroke-width="1.6"/>
<text x="324.6" y="521.55" text-anchor="end" font-size="32">0.6</text>
<line x1="358.6" y1="538.88" x2="375.6" y2="538.88" stroke="#000" stroke-width="1.6"/>
<line x1="341.6" y1="566.6" x2="375.6" y2="566.6" stroke="#000" stroke-width="1.6"/>
<text x="324.6" y="577" text-anchor="end" font-size="32">0</text>
<line x1="358.6" y1="594.33" x2="375.6" y2="594.33" stroke="#000" stroke-width="1.6"/>
<line x1="341.6" y1="622.05" x2="375.6" y2="622.05" stroke="#000" stroke-width="1.6"/>
<text x="324.6" y="632.45" text-anchor="end" font-size="32">-0.6</text>
<line x1="358.6" y1="649.77" x2="375.6" y2="649.77" stroke="#000" stroke-width="1.6"/>
<text x="324.6" y="687.9" text-anchor="end" font-size="32">-1.2</text>
<text x="408.75" y="563.55" text-anchor="middle" font-size="32">a</text>
<text x="441.25" y="561.3" text-anchor="middle" font-size="32">b</text>
<text x="474.75" y="522.3" text-anchor="middle" font-size="32">c</text>
<text x="508.75" y="563.8" text-anchor="middle" font-size="32">d</text>
<text x="542.4" y="533.2" text-anchor="middle" font-size="32">e</text>
<text x="575.2" y="564.4" text-anchor="middle" font-size="32">f</text>
<text x="609.75" y="533.6" text-anchor="middle" font-size="32">g</text>
<text x="641.9" y="564.4" text-anchor="middle" font-size="32">h</text>
<text x="673.75" y="539.8" text-anchor="middle" font-size="32">i</text>
<text x="709.4" y="675.8" text-anchor="end" font-size="33.5">H</text>
<text transform="translate(219.3,697) rotate(-90)" font-size="32">lnRR<tspan font-size="19.5" dy="8">UVR×CO2×Mix</tspan></text>
<text transform="translate(259.3,627.6) rotate(-90)" font-size="32"><tspan dy="0">on P</tspan><tspan font-size="19.5" dy="-9.5">c</tspan></text>
<rect x="930.6" y="592.5" width="332.3" height="81.8" fill="#e5e5e5"/>
<line x1="930.6" y1="592.5" x2="1262.9" y2="592.5" stroke="#b4b4b4" stroke-width="1"/>
<line x1="1262.9" y1="592.5" x2="1262.9" y2="674.3" stroke="#b4b4b4" stroke-width="1"/>
<rect x="950.8" y="590.9" width="26.5" height="75.8" fill="#fff" stroke="#000" stroke-width="1.6"/>
<line x1="964.05" y1="666.7" x2="964.05" y2="667.6" stroke="#000" stroke-width="1.6"/>
<line x1="954.9" y1="667.6" x2="973.2" y2="667.6" stroke="#000" stroke-width="1.6"/>
<rect x="983.9" y="590.9" width="26.55" height="11.7" fill="#fff" stroke="#000" stroke-width="1.6"/>
<line x1="997.17" y1="602.6" x2="997.17" y2="604" stroke="#000" stroke-width="1.6"/>
<line x1="988.02" y1="604" x2="1006.32" y2="604" stroke="#000" stroke-width="1.6"/>
<rect x="1017.05" y="556.7" width="26.75" height="34.2" fill="#fff" stroke="#000" stroke-width="1.6"/>
<line x1="1030.42" y1="556.7" x2="1030.42" y2="555" stroke="#000" stroke-width="1.6"/>
<line x1="1021.27" y1="555" x2="1039.58" y2="555" stroke="#000" stroke-width="1.6"/>
<rect x="1050.55" y="586.8" width="26.55" height="4.1" fill="#fff" stroke="#000" stroke-width="1.6"/>
<line x1="1063.83" y1="586.8" x2="1063.83" y2="582.25" stroke="#000" stroke-width="1.6"/>
<line x1="1054.67" y1="582.25" x2="1072.98" y2="582.25" stroke="#000" stroke-width="1.6"/>
<rect x="1083.7" y="588.05" width="26.6" height="2.85" fill="#fff" stroke="#000" stroke-width="1.6"/>
<line x1="1097" y1="588.05" x2="1097" y2="571.9" stroke="#000" stroke-width="1.6"/>
<line x1="1087.85" y1="571.9" x2="1106.15" y2="571.9" stroke="#000" stroke-width="1.6"/>
<rect x="1117.05" y="590.9" width="26.25" height="21.2" fill="#fff" stroke="#000" stroke-width="1.6"/>
<line x1="1130.17" y1="612.1" x2="1130.17" y2="613.1" stroke="#000" stroke-width="1.6"/>
<line x1="1121.02" y1="613.1" x2="1139.33" y2="613.1" stroke="#000" stroke-width="1.6"/>
<rect x="1149.9" y="546.7" width="26.8" height="44.2" fill="#fff" stroke="#000" stroke-width="1.6"/>
<line x1="1163.3" y1="546.7" x2="1163.3" y2="540.4" stroke="#000" stroke-width="1.6"/>
<line x1="1154.15" y1="540.4" x2="1172.45" y2="540.4" stroke="#000" stroke-width="1.6"/>
<rect x="1183.3" y="561.05" width="26.5" height="29.85" fill="#fff" stroke="#000" stroke-width="1.6"/>
<line x1="1196.55" y1="561.05" x2="1196.55" y2="560.25" stroke="#000" stroke-width="1.6"/>
<line x1="1187.4" y1="560.25" x2="1205.7" y2="560.25" stroke="#000" stroke-width="1.6"/>
<rect x="1216.4" y="571.4" width="26.8" height="19.5" fill="#fff" stroke="#000" stroke-width="1.6"/>
<line x1="1229.8" y1="571.4" x2="1229.8" y2="570.6" stroke="#000" stroke-width="1.6"/>
<line x1="1220.65" y1="570.6" x2="1238.95" y2="570.6" stroke="#000" stroke-width="1.6"/>
<line x1="930.6" y1="507.1" x2="930.6" y2="675.1" stroke="#000" stroke-width="1.6"/>
<line x1="896.6" y1="674.3" x2="1263.4" y2="674.3" stroke="#000" stroke-width="1.8"/>
<line x1="896.6" y1="507.5" x2="930.6" y2="507.5" stroke="#000" stroke-width="1.6"/>
<text x="879.6" y="517.9" text-anchor="end" font-size="32">1.2</text>
<line x1="913.6" y1="528.35" x2="930.6" y2="528.35" stroke="#000" stroke-width="1.6"/>
<line x1="896.6" y1="549.2" x2="930.6" y2="549.2" stroke="#000" stroke-width="1.6"/>
<text x="879.6" y="559.6" text-anchor="end" font-size="32">0.6</text>
<line x1="913.6" y1="570.05" x2="930.6" y2="570.05" stroke="#000" stroke-width="1.6"/>
<line x1="896.6" y1="590.9" x2="930.6" y2="590.9" stroke="#000" stroke-width="1.6"/>
<text x="879.6" y="601.3" text-anchor="end" font-size="32">0</text>
<line x1="913.6" y1="611.75" x2="930.6" y2="611.75" stroke="#000" stroke-width="1.6"/>
<line x1="896.6" y1="632.6" x2="930.6" y2="632.6" stroke="#000" stroke-width="1.6"/>
<text x="879.6" y="643" text-anchor="end" font-size="32">-0.6</text>
<line x1="913.6" y1="653.45" x2="930.6" y2="653.45" stroke="#000" stroke-width="1.6"/>
<text x="879.6" y="684.7" text-anchor="end" font-size="32">-1.2</text>
<text x="963.75" y="587.8" text-anchor="middle" font-size="32">a</text>
<text x="998.1" y="589.65" text-anchor="middle" font-size="32">b</text>
<text x="1031.25" y="553.15" text-anchor="middle" font-size="32">c</text>
<text x="1063.1" y="581.15" text-anchor="middle" font-size="32">bd</text>
<text x="1097.5" y="570" text-anchor="middle" font-size="32">e</text>
<text x="1130.3" y="589.65" text-anchor="middle" font-size="32">f</text>
<text x="1163.5" y="533.6" text-anchor="middle" font-size="32">g</text>
<text x="1196.9" y="558.15" text-anchor="middle" font-size="32">bh</text>
<text x="1228.75" y="568.15" text-anchor="middle" font-size="32">i</text>
<text x="1261.2" y="668.5" text-anchor="end" font-size="33.5">I</text>
<text transform="translate(769.3,688.4) rotate(-90)" font-size="32">lnRR<tspan font-size="19.5" dy="8">UVR×CO2×Nut</tspan></text>
<text transform="translate(809.3,619.7) rotate(-90)" font-size="32"><tspan dy="0">on P</tspan><tspan font-size="19.5" dy="-9.5">c</tspan></text>
<rect x="1484.6" y="556" width="332.4" height="110.6" fill="#e5e5e5"/>
<line x1="1484.6" y1="556" x2="1817" y2="556" stroke="#b4b4b4" stroke-width="1"/>
<line x1="1817" y1="556" x2="1817" y2="666.6" stroke="#b4b4b4" stroke-width="1"/>
<rect x="1504.55" y="556" width="26.55" height="83.1" fill="#fff" stroke="#000" stroke-width="1.6"/>
<line x1="1517.83" y1="639.1" x2="1517.83" y2="640" stroke="#000" stroke-width="1.6"/>
<line x1="1508.67" y1="640" x2="1526.98" y2="640" stroke="#000" stroke-width="1.6"/>
<rect x="1537.9" y="556" width="26.55" height="4.8" fill="#fff" stroke="#000" stroke-width="1.6"/>
<line x1="1551.17" y1="560.8" x2="1551.17" y2="562.75" stroke="#000" stroke-width="1.6"/>
<line x1="1542.02" y1="562.75" x2="1560.33" y2="562.75" stroke="#000" stroke-width="1.6"/>
<rect x="1571.05" y="556" width="26.65" height="21.1" fill="#fff" stroke="#000" stroke-width="1.6"/>
<line x1="1584.38" y1="577.1" x2="1584.38" y2="579.6" stroke="#000" stroke-width="1.6"/>
<line x1="1575.22" y1="579.6" x2="1593.53" y2="579.6" stroke="#000" stroke-width="1.6"/>
<rect x="1604.2" y="556" width="26.9" height="23.45" fill="#fff" stroke="#000" stroke-width="1.6"/>
<line x1="1617.65" y1="579.45" x2="1617.65" y2="585.9" stroke="#000" stroke-width="1.6"/>
<line x1="1608.5" y1="585.9" x2="1626.8" y2="585.9" stroke="#000" stroke-width="1.6"/>
<rect x="1637.4" y="531.9" width="26.7" height="24.1" fill="#fff" stroke="#000" stroke-width="1.6"/>
<line x1="1650.75" y1="531.9" x2="1650.75" y2="511.1" stroke="#000" stroke-width="1.6"/>
<line x1="1641.6" y1="511.1" x2="1659.9" y2="511.1" stroke="#000" stroke-width="1.6"/>
<rect x="1670.8" y="556" width="26.5" height="6.2" fill="#fff" stroke="#000" stroke-width="1.6"/>
<line x1="1684.05" y1="562.2" x2="1684.05" y2="563.1" stroke="#000" stroke-width="1.6"/>
<line x1="1674.9" y1="563.1" x2="1693.2" y2="563.1" stroke="#000" stroke-width="1.6"/>
<rect x="1703.9" y="523.05" width="26.55" height="32.95" fill="#fff" stroke="#000" stroke-width="1.6"/>
<line x1="1717.17" y1="523.05" x2="1717.17" y2="514.6" stroke="#000" stroke-width="1.6"/>
<line x1="1708.02" y1="514.6" x2="1726.33" y2="514.6" stroke="#000" stroke-width="1.6"/>
<rect x="1737.05" y="517.3" width="26.75" height="38.7" fill="#fff" stroke="#000" stroke-width="1.6"/>
<line x1="1750.42" y1="517.3" x2="1750.42" y2="516.3" stroke="#000" stroke-width="1.6"/>
<line x1="1741.27" y1="516.3" x2="1759.58" y2="516.3" stroke="#000" stroke-width="1.6"/>
<rect x="1770.4" y="524.9" width="26.55" height="31.1" fill="#fff" stroke="#000" stroke-width="1.6"/>
<line x1="1783.67" y1="524.9" x2="1783.67" y2="524" stroke="#000" stroke-width="1.6"/>
<line x1="1774.52" y1="524" x2="1792.83" y2="524" stroke="#000" stroke-width="1.6"/>
<line x1="1484.6" y1="499.45" x2="1484.6" y2="667.4" stroke="#000" stroke-width="1.6"/>
<line x1="1450.6" y1="666.6" x2="1817.5" y2="666.6" stroke="#000" stroke-width="1.8"/>
<line x1="1450.6" y1="500.7" x2="1484.6" y2="500.7" stroke="#000" stroke-width="1.6"/>
<text x="1433.6" y="511.1" text-anchor="end" font-size="32">0.6</text>
<line x1="1467.6" y1="528.35" x2="1484.6" y2="528.35" stroke="#000" stroke-width="1.6"/>
<line x1="1450.6" y1="556" x2="1484.6" y2="556" stroke="#000" stroke-width="1.6"/>
<text x="1433.6" y="566.4" text-anchor="end" font-size="32">0</text>
<line x1="1467.6" y1="583.65" x2="1484.6" y2="583.65" stroke="#000" stroke-width="1.6"/>
<line x1="1450.6" y1="611.3" x2="1484.6" y2="611.3" stroke="#000" stroke-width="1.6"/>
<text x="1433.6" y="621.7" text-anchor="end" font-size="32">-0.6</text>
<line x1="1467.6" y1="638.95" x2="1484.6" y2="638.95" stroke="#000" stroke-width="1.6"/>
<text x="1433.6" y="677" text-anchor="end" font-size="32">-1.2</text>
<text x="1517.5" y="552.2" text-anchor="middle" font-size="32">a</text>
<text x="1553.1" y="554.05" text-anchor="middle" font-size="32">b</text>
<text x="1586.25" y="554.05" text-anchor="middle" font-size="32">c</text>
<text x="1618.1" y="554.05" text-anchor="middle" font-size="32">d</text>
<text x="1652.6" y="509.05" text-anchor="middle" font-size="32">e</text>
<text x="1685" y="552.6" text-anchor="middle" font-size="32">f</text>
<text x="1717.5" y="506.7" text-anchor="middle" font-size="32">gi</text>
<text x="1751" y="513.4" text-anchor="middle" font-size="32">h</text>
<text x="1785.25" y="521.55" text-anchor="middle" font-size="32">i</text>
<text x="1816" y="662.2" text-anchor="end" font-size="33.5">J</text>
<text transform="translate(1323.3,678.4) rotate(-90)" font-size="32">lnRR<tspan font-size="19.5" dy="8">UVR×Mix×Nut</tspan></text>
<text transform="translate(1363.4,612.7) rotate(-90)" font-size="32"><tspan dy="0">on P</tspan><tspan font-size="19.5" dy="-9.5">c</tspan></text>
<rect x="769.9" y="935.3" width="664.7" height="142.2" fill="#e5e5e5"/>
<line x1="769.9" y1="935.3" x2="1434.6" y2="935.3" stroke="#b4b4b4" stroke-width="1"/>
<line x1="1434.6" y1="935.3" x2="1434.6" y2="1077.5" stroke="#b4b4b4" stroke-width="1"/>
<rect x="809.7" y="935.3" width="53.3" height="131.8" fill="#fff" stroke="#000" stroke-width="1.6"/>
<line x1="836.35" y1="1067.1" x2="836.35" y2="1072.5" stroke="#000" stroke-width="1.6"/>
<line x1="827.2" y1="1072.5" x2="845.5" y2="1072.5" stroke="#000" stroke-width="1.6"/>
<rect x="876.2" y="921.6" width="53.2" height="13.7" fill="#fff" stroke="#000" stroke-width="1.6"/>
<line x1="902.8" y1="921.6" x2="902.8" y2="916.8" stroke="#000" stroke-width="1.6"/>
<line x1="893.65" y1="916.8" x2="911.95" y2="916.8" stroke="#000" stroke-width="1.6"/>
<rect x="942.6" y="903.2" width="53.3" height="32.1" fill="#fff" stroke="#000" stroke-width="1.6"/>
<line x1="969.25" y1="903.2" x2="969.25" y2="899.8" stroke="#000" stroke-width="1.6"/>
<line x1="960.1" y1="899.8" x2="978.4" y2="899.8" stroke="#000" stroke-width="1.6"/>
<rect x="1009.1" y="873.1" width="53.3" height="62.2" fill="#fff" stroke="#000" stroke-width="1.6"/>
<line x1="1035.75" y1="873.1" x2="1035.75" y2="861.3" stroke="#000" stroke-width="1.6"/>
<line x1="1026.6" y1="861.3" x2="1044.9" y2="861.3" stroke="#000" stroke-width="1.6"/>
<rect x="1075.4" y="896.6" width="53.3" height="38.7" fill="#fff" stroke="#000" stroke-width="1.6"/>
<line x1="1102.05" y1="896.6" x2="1102.05" y2="866.3" stroke="#000" stroke-width="1.6"/>
<line x1="1092.9" y1="866.3" x2="1111.2" y2="866.3" stroke="#000" stroke-width="1.6"/>
<rect x="1141.7" y="902" width="53.4" height="33.3" fill="#fff" stroke="#000" stroke-width="1.6"/>
<line x1="1168.4" y1="902" x2="1168.4" y2="900.4" stroke="#000" stroke-width="1.6"/>
<line x1="1159.25" y1="900.4" x2="1177.55" y2="900.4" stroke="#000" stroke-width="1.6"/>
<rect x="1208.3" y="784.7" width="53.1" height="150.6" fill="#fff" stroke="#000" stroke-width="1.6"/>
<line x1="1234.85" y1="784.7" x2="1234.85" y2="771" stroke="#000" stroke-width="1.6"/>
<line x1="1225.7" y1="771" x2="1244" y2="771" stroke="#000" stroke-width="1.6"/>
<rect x="1274.6" y="888.6" width="53.3" height="46.7" fill="#fff" stroke="#000" stroke-width="1.6"/>
<line x1="1301.25" y1="888.6" x2="1301.25" y2="887.2" stroke="#000" stroke-width="1.6"/>
<line x1="1292.1" y1="887.2" x2="1310.4" y2="887.2" stroke="#000" stroke-width="1.6"/>
<rect x="1341.1" y="860.3" width="53.4" height="75" fill="#fff" stroke="#000" stroke-width="1.6"/>
<line x1="1367.8" y1="860.3" x2="1367.8" y2="858.9" stroke="#000" stroke-width="1.6"/>
<line x1="1358.65" y1="858.9" x2="1376.95" y2="858.9" stroke="#000" stroke-width="1.6"/>
<line x1="769.9" y1="744.6" x2="769.9" y2="1078.3" stroke="#000" stroke-width="1.6"/>
<line x1="735.9" y1="1077.5" x2="1435.1" y2="1077.5" stroke="#000" stroke-width="1.8"/>
<line x1="735.9" y1="745.7" x2="769.9" y2="745.7" stroke="#000" stroke-width="1.6"/>
<text x="718.9" y="756.1" text-anchor="end" font-size="32">1</text>
<line x1="752.9" y1="769.4" x2="769.9" y2="769.4" stroke="#000" stroke-width="1.6"/>
<line x1="735.9" y1="793.1" x2="769.9" y2="793.1" stroke="#000" stroke-width="1.6"/>
<text x="718.9" y="803.5" text-anchor="end" font-size="32">0.75</text>
<line x1="752.9" y1="816.8" x2="769.9" y2="816.8" stroke="#000" stroke-width="1.6"/>
<line x1="735.9" y1="840.5" x2="769.9" y2="840.5" stroke="#000" stroke-width="1.6"/>
<text x="718.9" y="850.9" text-anchor="end" font-size="32">0.5</text>
<line x1="752.9" y1="864.2" x2="769.9" y2="864.2" stroke="#000" stroke-width="1.6"/>
<line x1="735.9" y1="887.9" x2="769.9" y2="887.9" stroke="#000" stroke-width="1.6"/>
<text x="718.9" y="898.3" text-anchor="end" font-size="32">0.25</text>
<line x1="752.9" y1="911.6" x2="769.9" y2="911.6" stroke="#000" stroke-width="1.6"/>
<line x1="735.9" y1="935.3" x2="769.9" y2="935.3" stroke="#000" stroke-width="1.6"/>
<text x="718.9" y="945.7" text-anchor="end" font-size="32">0</text>
<line x1="752.9" y1="959" x2="769.9" y2="959" stroke="#000" stroke-width="1.6"/>
<line x1="735.9" y1="982.7" x2="769.9" y2="982.7" stroke="#000" stroke-width="1.6"/>
<text x="718.9" y="993.1" text-anchor="end" font-size="32">-0.25</text>
<line x1="752.9" y1="1006.4" x2="769.9" y2="1006.4" stroke="#000" stroke-width="1.6"/>
<line x1="735.9" y1="1030.1" x2="769.9" y2="1030.1" stroke="#000" stroke-width="1.6"/>
<text x="718.9" y="1040.5" text-anchor="end" font-size="32">-0.5</text>
<line x1="752.9" y1="1053.8" x2="769.9" y2="1053.8" stroke="#000" stroke-width="1.6"/>
<text x="718.9" y="1087.9" text-anchor="end" font-size="32">-0.75</text>
<text x="834.3" y="933.8" text-anchor="middle" font-size="32">a</text>
<text x="902.8" y="915" text-anchor="middle" font-size="32">b</text>
<text x="969.7" y="899" text-anchor="middle" font-size="32">c</text>
<text x="1035.3" y="859.9" text-anchor="middle" font-size="32">d</text>
<text x="1101.6" y="865.1" text-anchor="middle" font-size="32">e</text>
<text x="1169.9" y="899" text-anchor="middle" font-size="32">c</text>
<text x="1236.4" y="763.8" text-anchor="middle" font-size="32">g</text>
<text x="1301.2" y="887.4" text-anchor="middle" font-size="32">h</text>
<text x="1369.3" y="856.5" text-anchor="middle" font-size="32">i</text>
<text x="1432" y="1073.5" text-anchor="end" font-size="33.5">K</text>
<text transform="translate(632,1023.1) rotate(-90)" font-size="32">lnRR<tspan font-size="19.5" dy="8">Interactive </tspan><tspan dy="-8">on P</tspan><tspan font-size="19.5" dy="-9.5">c</tspan></text>
<text transform="translate(857.25,1108.8) rotate(-45)" text-anchor="end" font-size="32">RSS</text>
<text transform="translate(927,1111.3) rotate(-45)" text-anchor="end" font-size="32">AV</text>
<text transform="translate(998.05,1111.5) rotate(-45)" text-anchor="end" font-size="32">LV</text>
<text transform="translate(1063.25,1111.8) rotate(-45)" text-anchor="end" font-size="32">LY</text>
<text transform="translate(1127.55,1109) rotate(-45)" text-anchor="end" font-size="32">LC</text>
<text transform="translate(1203.4,1106.5) rotate(-45)" text-anchor="end" font-size="32">SM</text>
<text transform="translate(1265.05,1111) rotate(-45)" text-anchor="end" font-size="32">SP</text>
<text transform="translate(1336.55,1108.3) rotate(-45)" text-anchor="end" font-size="32">CO</text>
<text transform="translate(1407,1106.8) rotate(-45)" text-anchor="end" font-size="32">MO</text>
</svg>
</body>
</html>
